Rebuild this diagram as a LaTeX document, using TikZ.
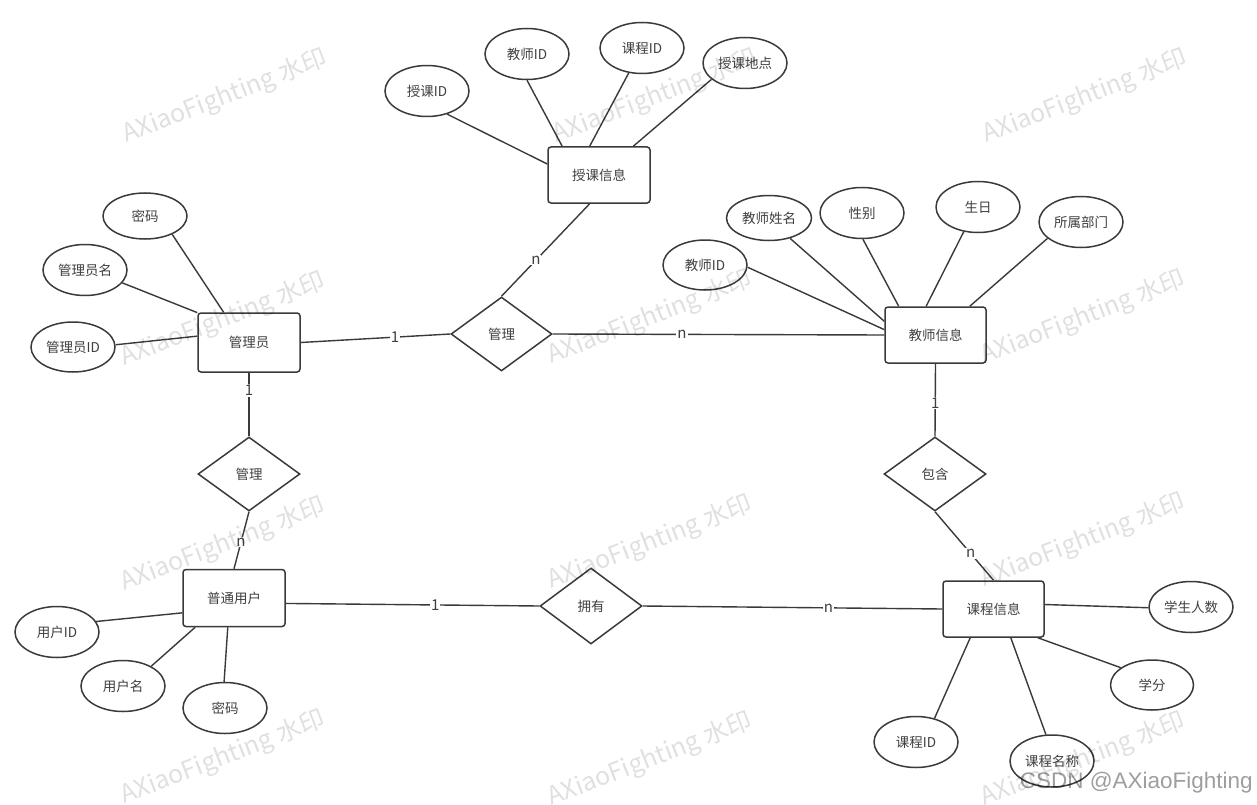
\documentclass[tikz,border=0pt]{standalone}
\usepackage{fontspec}
\setmainfont{Noto Sans CJK SC}
\newfontfamily\csdnfont{Liberation Sans}
\usetikzlibrary{shapes.geometric}
\definecolor{linec}{HTML}{3A3A3A}
\definecolor{txtc}{HTML}{404040}
\tikzset{
  base/.style={draw=linec, line width=1.5pt, fill=white, inner sep=0pt, text=txtc, font=\fontsize{13.5}{16}\selectfont},
  ent/.style={base, rounded corners=3pt, minimum width=102pt, minimum height=57pt},
  attr/.style={base, ellipse, minimum width=84pt, minimum height=51pt},
  rel/.style={base, diamond, minimum width=102pt, minimum height=75pt},
  conn/.style={draw=linec, line width=1.4pt},
  lbl/.style={fill=white, inner sep=1pt, text=txtc, font=\fontsize{15}{17}\selectfont},
  wm/.style={text=black, text opacity=0.12, rotate=21, font=\fontsize{25}{30}\selectfont}
}
\begin{document}
\begin{tikzpicture}[x=1pt,y=-1pt]
\useasboundingbox[fill=white] (0,0) rectangle (1257,805);

% entities
\node[ent, minimum height=56pt] (sk) at (599,175) {授课信息};
\node[ent, minimum height=59pt] (gly) at (249,342.5) {管理员};
\node[ent, minimum width=101pt, minimum height=56pt] (js) at (935.5,335) {教师信息};
\node[ent] (pt) at (234,598) {普通用户};
\node[ent, minimum width=101pt, minimum height=56pt] (kc) at (993.5,609) {课程信息};

% relationships
\node[rel, minimum width=101pt, minimum height=74pt] (gl1) at (501.5,334) {管理};
\node[rel, minimum height=74pt] (gl2) at (249,474) {管理};
\node[rel, minimum height=74pt] (bh) at (935,474) {包含};
\node[rel, minimum height=76pt] (yy) at (591,606) {拥有};

% attributes of 授课信息
\node[attr] (skid) at (427,91) {授课ID};
\node[attr] (skjs) at (527,54) {教师ID};
\node[attr] (skkc) at (642,48) {课程ID};
\node[attr] (skdd) at (745,63) {授课地点};

% attributes of 管理员
\node[attr, minimum height=46pt] (mm1) at (145,216) {密码};
\node[attr] (glym) at (85,270) {管理员名};
\node[attr, minimum height=50pt] (glyid) at (73,347) {管理员ID};

% attributes of 教师信息
\node[attr, minimum height=50pt] (jsid) at (705,265) {教师ID};
\node[attr, minimum width=85pt, minimum height=45pt] (jsxm) at (769,218) {教师姓名};
\node[attr] (jsxb) at (862,213) {性别};
\node[attr] (jssr) at (978,207) {生日};
\node[attr] (jsbm) at (1081,222) {所属部门};

% attributes of 普通用户
\node[attr] (yhid) at (57,632) {用户ID};
\node[attr] (yhm) at (123,686) {用户名};
\node[attr] (mm2) at (225,708) {密码};

% attributes of 课程信息
\node[attr] (xsrs) at (1191,607) {学生人数};
\node[attr, minimum width=83pt, minimum height=50pt] (xf) at (1152,685) {学分};
\node[attr] (kcid) at (916,742) {课程ID};
\node[attr, minimum height=52pt] (kcmc) at (1052,761) {课程名称};

% attribute connectors
\draw[conn] (skid.-49) -- (sk.168);
\draw[conn] (skjs.-90) -- (sk.142);
\draw[conn] (skkc.-118) -- (sk.108);
\draw[conn] (skdd.-154) -- (sk.40);

\draw[conn] (mm1.-34) -- (gly.130);
\draw[conn] (glym.-19) -- (gly.150);
\draw[conn] (glyid.3) -- (gly.173);

\draw[conn] (jsid.-3) -- (js.174);
\draw[conn] (jsxm.-44) -- (js.165);
\draw[conn] (jsxb.-88) -- (js.142.5);
\draw[conn] (jssr.-120) -- (js.108.7);
\draw[conn] (jsbm.-154) -- (js.40.7);

\draw[conn] (yhid.15) -- (pt.-164);
\draw[conn] (yhm.35) -- (pt.-143);
\draw[conn] (mm2.92) -- (pt.-102);

\draw[conn] (xsrs.181) -- (kc.5.6);
\draw[conn] (xf.151) -- (kc.-33);
\draw[conn] (kcid.52) -- (kc.-129);
\draw[conn] (kcmc.103) -- (kc.-59.5);

% relationship connectors
\draw[conn] (gly.east) -- node[lbl, pos=0.63] (l1) {1} (gl1.west);
\draw[conn] (sk.-108) -- node[lbl, pos=0.61] (l2) {n} (gl1.north);
\draw[conn] (gl1.east) -- node[lbl, pos=0.39] (l3) {n} (js.west);
\draw[conn] (gly.south) -- node[lbl, pos=0.28] (l4) {1} (gl2.north);
\draw[conn] (gl2.south) -- node[lbl, pos=0.53] (l5) {n} (pt.north);
\draw[conn] (pt.-6.7) -- node[lbl, pos=0.59] (l6) {1} (yy.west);
\draw[conn] (yy.east) -- node[lbl, pos=0.62] (l7) {n} (kc.west);
\draw[conn] (js.south) -- node[lbl, pos=0.54] (l8) {1} (bh.north);
\draw[conn] (bh.south) -- node[lbl, pos=0.61] (l9) {n} (kc.north);

% watermarks
\foreach \wx/\wy [count=\i] in {225/97, 655/97, 1085/97, 223/320, 650/318, 1083/318, 223/545, 650/543, 1083/541, 223/758, 650/760, 1083/760}
  \node[wm] (wm\i) at (\wx,\wy) {AXiaoFighting 水印};

\node[anchor=base east, text=black, text opacity=0.38, font=\csdnfont\fontsize{22.5}{26}\selectfont, inner sep=0pt] (csdn) at (1253,788) {CSDN @AXiaoFighting};
\end{tikzpicture}
\end{document}
